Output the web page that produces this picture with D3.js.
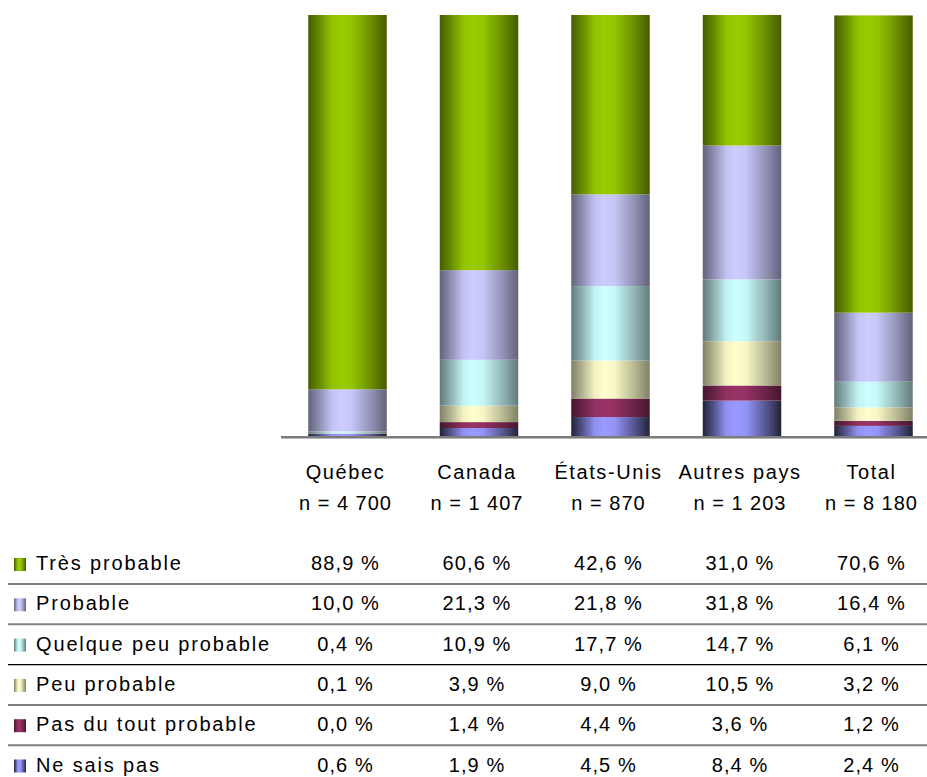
<!DOCTYPE html>
<html><head><meta charset="utf-8">
<script src="https://cdn.jsdelivr.net/npm/d3@7"></script>
<style>html,body{margin:0;padding:0;background:#fff;}svg{display:block;}</style>
</head><body><svg id="c" width="927" height="777"></svg>
<script>
const categories = ["Québec", "Canada", "États-Unis", "Autres pays", "Total"];
const sampleSizes = ["n = 4 700", "n = 1 407", "n = 870", "n = 1 203", "n = 8 180"];
// series listed top to bottom as in the table
const seriesNames = ["Très probable", "Probable", "Quelque peu probable", "Peu probable", "Pas du tout probable", "Ne sais pas"];
const tresProbable   = [88.9, 60.6, 42.6, 31.0, 70.6];
const probable       = [10.0, 21.3, 21.8, 31.8, 16.4];
const quelquePeu     = [0.4, 10.9, 17.7, 14.7, 6.1];
const peuProbable    = [0.1, 3.9, 9.0, 10.5, 3.2];
const pasDuTout      = [0.0, 1.4, 4.4, 3.6, 1.2];
const neSaisPas      = [0.6, 1.9, 4.5, 8.4, 2.4];
const seriesValues = [tresProbable, probable, quelquePeu, peuProbable, pasDuTout, neSaisPas];
const seriesColors = ["#99CC00", "#CCCCFF", "#CCFFFF", "#FFFFCC", "#993366", "#9999FF"];
const edgeFactors  = [0.45, 0.48, 0.48, 0.5, 0.45, 0.22];

const svg = d3.select("#c");
const defs = svg.append("defs");
seriesColors.forEach((col, i) => {
  const c = d3.rgb(col);
  const k = edgeFactors[i];
  const shade = f => d3.rgb(c.r * f, c.g * f, c.b * f).toString();
  const g = defs.append("linearGradient").attr("id", "g" + i).attr("x1", "0%").attr("x2", "100%").attr("y1", "0%").attr("y2", "0%");
  [[0, k], [0.12, k + (1 - k) * 0.35], [0.3, 0.95], [0.42, 1], [0.55, 0.97], [0.8, k + (1 - k) * 0.45], [1, k]].forEach(([o, f]) => {
    g.append("stop").attr("offset", (o * 100) + "%").attr("stop-color", shade(f));
  });
});

const x = d3.scaleBand().domain(categories).range([281.75, 939.25]).paddingInner(0.403).paddingOuter(0.2015);
const y = d3.scaleLinear().domain([0, 100]).range([436, 15]);

// stack bottom-up: Ne sais pas first
const order = [5, 4, 3, 2, 1, 0];
const rows = categories.map((c, j) => {
  const o = {cat: c};
  seriesNames.forEach((s, i) => o[s] = seriesValues[i][j]);
  return o;
});
const stack = d3.stack().keys(order.map(i => seriesNames[i]))(rows);

const gBars = svg.append("g");
stack.forEach(layer => {
  const si = seriesNames.indexOf(layer.key);
  gBars.selectAll(null).data(layer).enter().append("rect")
    .attr("x", d => x(d.data.cat))
    .attr("width", x.bandwidth())
    .attr("y", d => y(d[1]))
    .attr("height", d => Math.max(0, y(d[0]) - y(d[1])))
    .attr("fill", "url(#g" + si + ")");
});

// baseline axis
svg.append("line").attr("x1", 281).attr("x2", 927).attr("y1", y(0) + 1).attr("y2", y(0) + 1).attr("stroke", "#505050").attr("stroke-width", 1.5);
svg.append("line").attr("x1", 281).attr("x2", 927).attr("y1", y(0) + 2.5).attr("y2", y(0) + 2.5).attr("stroke", "#b8b8b8").attr("stroke-width", 1);

const font = "'Liberation Sans', Arial, sans-serif";
const cx = c => x(c) + x.bandwidth() / 2 - 2;

// headers
svg.selectAll(null).data(categories).enter().append("text")
  .attr("x", c => cx(c)).attr("y", 479).attr("text-anchor", "middle")
  .attr("font-family", font).attr("font-size", 20).attr("letter-spacing", 1.6).attr("fill", "#000")
  .text(d => d);
svg.selectAll(null).data(sampleSizes).enter().append("text")
  .attr("x", (d, j) => cx(categories[j])).attr("y", 510).attr("text-anchor", "middle")
  .attr("font-family", font).attr("font-size", 20).attr("letter-spacing", 1).attr("fill", "#000")
  .text(d => d);

const fmt = v => d3.format(".1f")(v).replace(".", ",") + " %";
const rowY = i => 570 + 40.3 * i;

seriesNames.forEach((s, i) => {
  const ry = rowY(i);
  svg.append("rect").attr("x", 14).attr("y", ry - 12).attr("width", 12).attr("height", 13).attr("fill", "url(#g" + i + ")");
  svg.append("text").attr("x", 36).attr("y", ry).attr("font-family", font).attr("font-size", 20)
    .attr("letter-spacing", 1.85).attr("fill", "#000").text(s);
  svg.selectAll(null).data(seriesValues[i]).enter().append("text")
    .attr("x", (d, j) => cx(categories[j])).attr("y", ry).attr("text-anchor", "middle")
    .attr("font-family", font).attr("font-size", 20).attr("letter-spacing", 1.1).attr("fill", "#000")
    .text(d => fmt(d));
  if (i < seriesNames.length - 1) {
    const ly = ry + 14;
    const black = i === 2;
    svg.append("line").attr("x1", 8).attr("x2", 927).attr("y1", ly).attr("y2", ly)
      .attr("stroke", black ? "#000" : "#808080").attr("stroke-width", black ? 1.2 : 2);
  }
});
</script></body></html>
